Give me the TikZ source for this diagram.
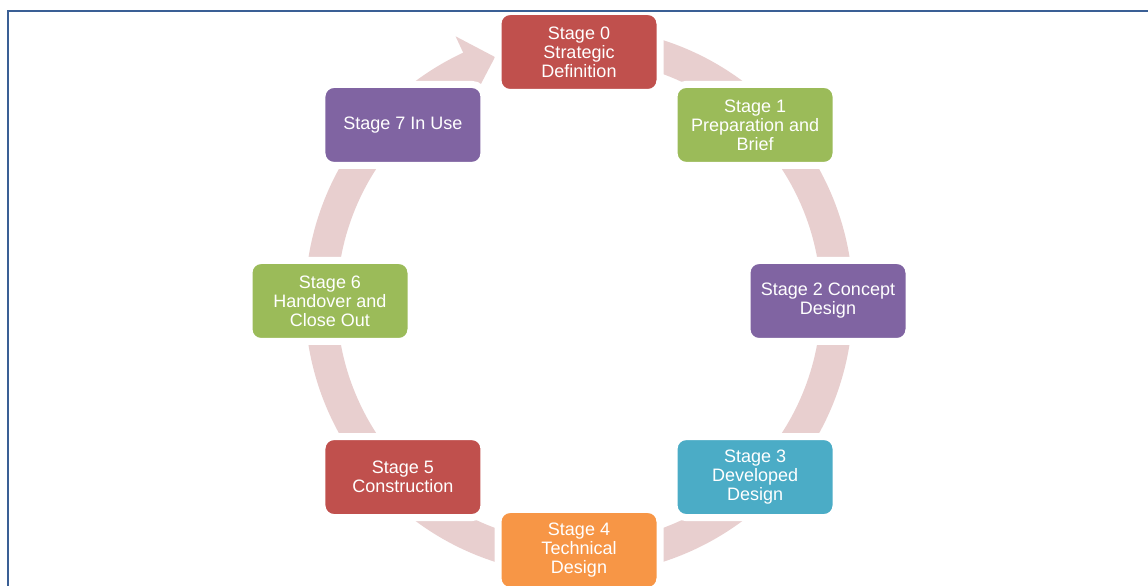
\documentclass[tikz,border=0pt]{standalone}
\usepackage{fontspec}
\setmainfont{Liberation Sans}
\definecolor{framecol}{HTML}{3A5F95}
\definecolor{ringcol}{HTML}{E8CFCF}
\definecolor{cred}{HTML}{C0504D}
\definecolor{cgreen}{HTML}{9BBB59}
\definecolor{cpurple}{HTML}{8064A2}
\definecolor{caqua}{HTML}{4BACC6}
\definecolor{corange}{HTML}{F79646}
\begin{document}
\begin{tikzpicture}[x=1pt,y=1pt,
  stagebox/.style={rounded corners=12pt, draw=white, line width=7pt,
    minimum width=162pt, minimum height=81pt, text=white,
    font=\fontsize{18}{19}\selectfont, align=center, inner sep=0pt}]
\useasboundingbox (0,0) rectangle (1148,586);
\fill[white] (0,0) rectangle (1148,586);
\begin{scope}[shift={(579,285)}]
  \fill[ringcol] (80:274) arc[start angle=80, end angle=-245, radius=274]
    -- (-245:292) -- (-251:258) -- (-245:236) -- (-245:242)
    arc[start angle=-245, end angle=80, radius=242] -- cycle;
  \node[stagebox, fill=cred]    (s0) at (90:249)  {Stage 0\\Strategic\\Definition};
  \node[stagebox, fill=cgreen]  (s1) at (45:249)  {Stage 1\\Preparation and\\Brief};
  \node[stagebox, fill=cpurple] (s2) at (0:249)   {Stage 2 Concept\\Design};
  \node[stagebox, fill=caqua]   (s3) at (-45:249) {Stage 3\\Developed\\Design};
  \node[stagebox, fill=corange] (s4) at (-90:249) {Stage 4\\Technical\\Design};
  \node[stagebox, fill=cred]    (s5) at (-135:249) {Stage 5\\Construction};
  \node[stagebox, fill=cgreen]  (s6) at (180:249) {Stage 6\\Handover and\\Close Out};
  \node[stagebox, fill=cpurple] (s7) at (135:249) {Stage 7 In Use};
\end{scope}
\draw[framecol, line width=2pt] (8,0) -- (8,574.5) -- (1148,574.5);
\end{tikzpicture}
\end{document}
